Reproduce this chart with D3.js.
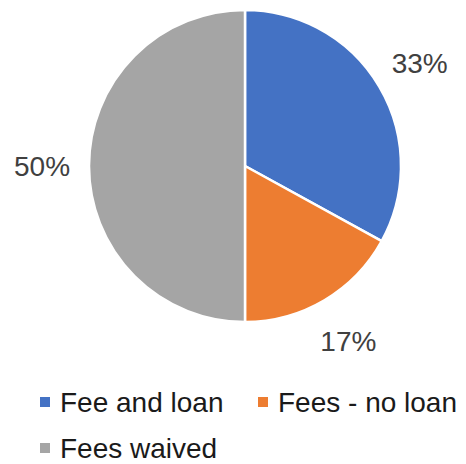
<!DOCTYPE html>
<html>
<head>
<meta charset="utf-8">
<script src="https://cdn.jsdelivr.net/npm/d3@7"></script>
<style>
  html, body { margin: 0; padding: 0; background: #fff; }
  svg { display: block; }
</style>
</head>
<body>
<svg id="chart" width="466" height="464"></svg>
<script>
// Share of students by fee status
const categories = ["Fee and loan", "Fees - no loan", "Fees waived"];
const values = [33, 17, 50];
const colors = ["#4472C4", "#ED7D31", "#A5A5A5"];

const svg = d3.select("#chart");
const cx = 245, cy = 166, radius = 156, labelRadius = 203;

const pie = d3.pie().sort(null).value(d => d.value);
const data = categories.map((c, i) => ({ name: c, value: values[i], color: colors[i] }));
const arcs = pie(data);

const arc = d3.arc().innerRadius(0).outerRadius(radius);
const labelArc = d3.arc().innerRadius(labelRadius).outerRadius(labelRadius);

const g = svg.append("g").attr("transform", `translate(${cx},${cy})`);

g.selectAll("path.slice")
  .data(arcs)
  .join("path")
  .attr("class", "slice")
  .attr("d", arc)
  .attr("fill", d => d.data.color)
  .attr("stroke", "#fff")
  .attr("stroke-width", 2.5)
  .attr("stroke-linejoin", "round");

g.selectAll("text.pct")
  .data(arcs)
  .join("text")
  .attr("class", "pct")
  .attr("transform", d => `translate(${labelArc.centroid(d)})`)
  .attr("text-anchor", "middle")
  .attr("dy", "0.36em")
  .attr("font-family", "Liberation Sans, Arial, sans-serif")
  .attr("font-size", 28)
  .attr("fill", "#404040")
  .text(d => d.data.value + "%");

// Legend
const legendPos = [[40, 397], [258, 397], [40, 443]];
const legend = svg.selectAll("g.legend")
  .data(data)
  .join("g")
  .attr("class", "legend")
  .attr("transform", (d, i) => `translate(${legendPos[i][0]},${legendPos[i][1]})`);

legend.append("rect")
  .attr("width", 10)
  .attr("height", 10)
  .attr("fill", d => d.color);

legend.append("text")
  .attr("x", 20)
  .attr("y", 15)
  .attr("font-family", "Liberation Sans, Arial, sans-serif")
  .attr("font-size", 28)
  .attr("fill", "#1a1a1a")
  .text(d => d.name);
</script>
</body>
</html>
